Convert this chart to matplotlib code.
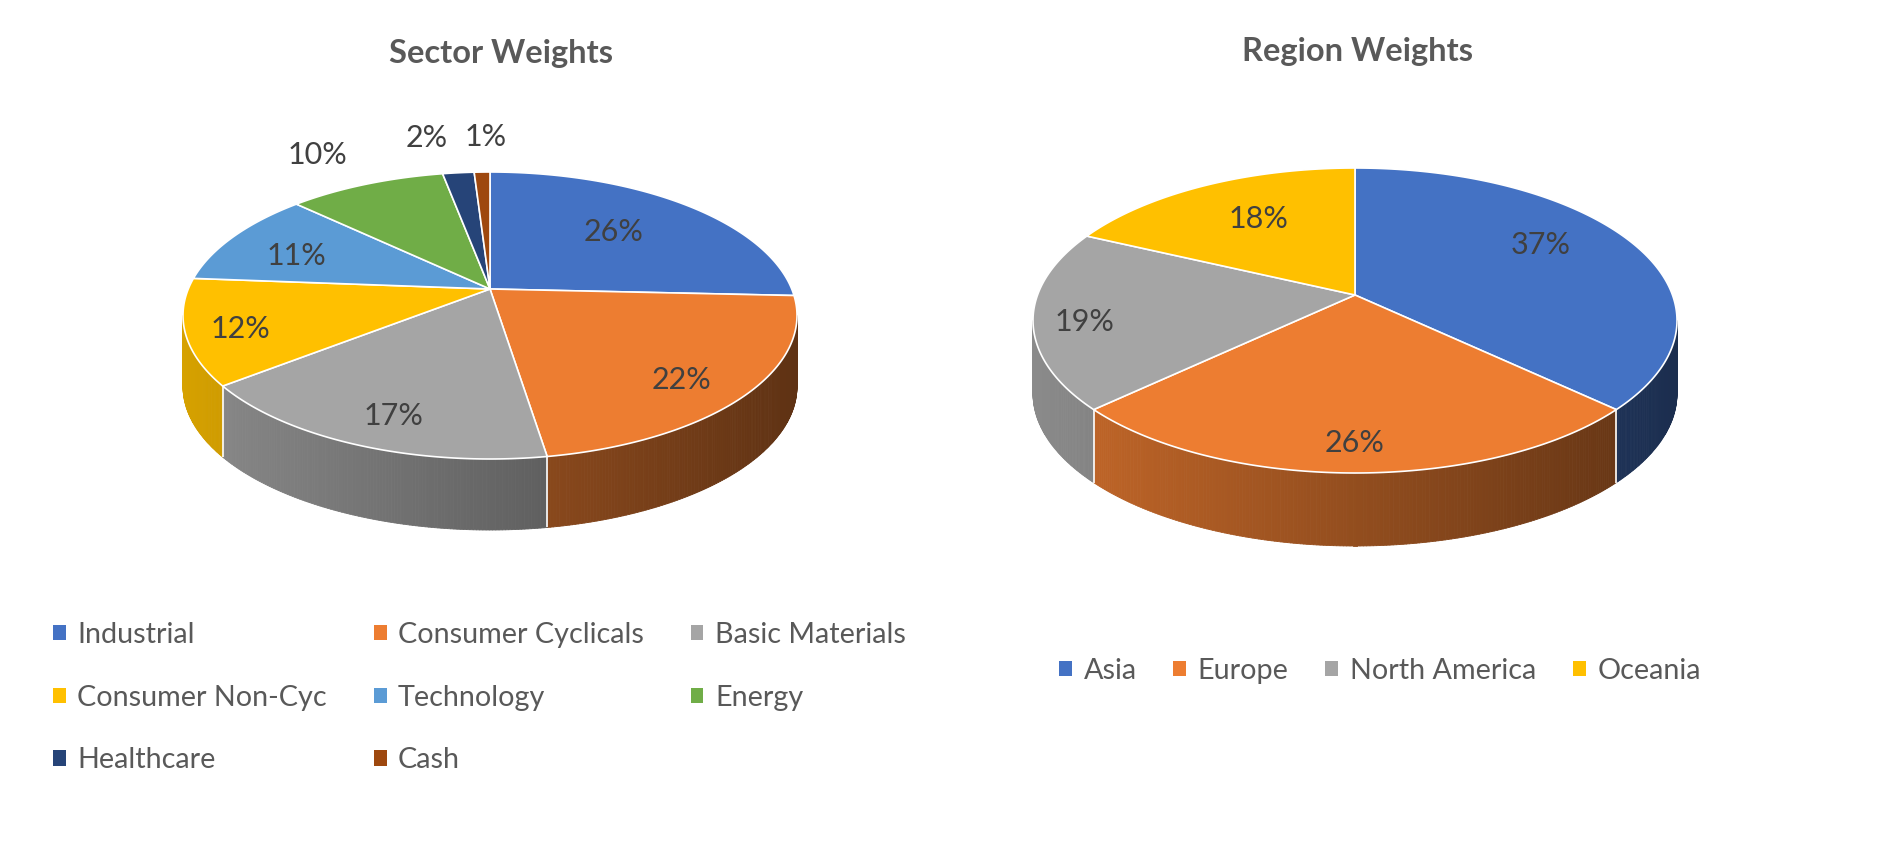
import numpy as np
import matplotlib
matplotlib.use("Agg")
import matplotlib.pyplot as plt
from matplotlib.collections import PolyCollection
from matplotlib.patches import Polygon, Patch
from matplotlib.colors import to_rgb

plt.rcParams['font.family'] = ['Lato', 'DejaVu Sans']

# ---------------- data ----------------
sector_names = ["Industrial", "Consumer Cyclicals", "Basic Materials", "Consumer Non-Cyc",
                "Technology", "Energy", "Healthcare", "Cash"]
sector_values = [26, 22, 17, 12, 11, 10, 2, 1]
sector_colors = ["#4472C4", "#ED7D31", "#A5A5A5", "#FFC000",
                 "#5B9BD5", "#70AD47", "#264478", "#9E480E"]

region_names = ["Asia", "Europe", "North America", "Oceania"]
region_values = [37, 26, 19, 18]
region_colors = ["#4472C4", "#ED7D31", "#A5A5A5", "#FFC000"]

# ---------------- layout ----------------
W, H = 1885, 864
sector_label_r = [0.63, 0.78, 0.80, 0.82, 0.75, 1.40, 1.40, 1.40]
sector_label_nudge = [(-4, -4), (-2, 8), (6, 4), (-2, 2), (2, 4), (-8, 2), (-22, -1), (6, -1)]
region_label_r = [0.62, 0.83, 0.85, 0.62]
region_label_nudge = [(12, -18), (0, 2), (2, 4), (0, -8)]
LABEL_DY = 3

fig = plt.figure(figsize=(W / 100, H / 100), dpi=100)
ax = fig.add_axes([0, 0, 1, 1])
ax.set_xlim(0, W)
ax.set_ylim(H, 0)
ax.axis('off')

LABEL_FS = 22
LEGEND_FS = 20.7


def draw_pie3d(values, colors, cx, cy, halfw, back, front, depth, label_r, label_nudge):
    ratio = front / back
    k = (ratio - 1) / (ratio + 1)
    B = back * (1 + k)
    A = halfw * np.sqrt(1 - k * k)

    def proj(r, t):
        u = r * np.cos(t)
        v = r * np.sin(t)
        w = 1 + k * v
        return cx + A * u / w, cy - B * v / w

    vals = np.asarray(values, dtype=float)
    fr = vals / vals.sum()
    starts = np.pi / 2 - 2 * np.pi * np.concatenate([[0], np.cumsum(fr)[:-1]])
    ends = starts - 2 * np.pi * fr
    vis_lo = np.pi + np.arcsin(k)
    vis_hi = 2 * np.pi - np.arcsin(k)

    # side faces
    polys, fcs = [], []
    for i in range(len(vals)):
        base = np.array(to_rgb(colors[i]))
        for shift in (-2 * np.pi, 0, 2 * np.pi):
            lo = max(ends[i] + shift, vis_lo)
            hi = min(starts[i] + shift, vis_hi)
            if lo >= hi:
                continue
            n = max(2, int(np.degrees(hi - lo) / 0.5))
            ts = np.linspace(lo, hi, n + 1)
            for j in range(n):
                x0, y0 = proj(1, ts[j])
                x1, y1 = proj(1, ts[j + 1])
                polys.append([(x0, y0), (x1, y1), (x1, y1 + depth), (x0, y0 + depth)])
                xn = ((x0 + x1) / 2 - cx) / halfw
                f = 0.62 - 0.22 * xn
                fcs.append(np.clip(base * f, 0, 1))
    pc = PolyCollection(polys, facecolors=fcs, edgecolors=fcs, linewidths=0.6, zorder=1)
    ax.add_collection(pc)

    # white separators on the side
    for t in starts:
        tt = t % (2 * np.pi)
        if vis_lo < tt < vis_hi:
            x0, y0 = proj(1, tt)
            ax.plot([x0, x0], [y0, y0 + depth], color='white', lw=1.2, zorder=1.5,
                    solid_capstyle='butt')

    # top faces
    for i in range(len(vals)):
        n = max(3, int(np.degrees(starts[i] - ends[i]) / 0.5))
        ts = np.linspace(starts[i], ends[i], n + 1)
        xs, ys = proj(1, ts)
        pts = [(cx, cy)] + list(zip(xs, ys))
        ax.add_patch(Polygon(pts, closed=True, facecolor=colors[i], edgecolor='white',
                             lw=1.2, joinstyle='round', zorder=2))

    # data labels
    mids = (starts + ends) / 2
    for i in range(len(vals)):
        x, y = proj(label_r[i], mids[i])
        x += label_nudge[i][0]
        y += label_nudge[i][1] + LABEL_DY
        ax.text(x, y, f"{int(round(values[i]))}%", ha='center', va='center',
                fontsize=LABEL_FS, color='#404040', zorder=3)


draw_pie3d(sector_values, sector_colors, 490, 289, 307, 117, 170, 71,
           sector_label_r, sector_label_nudge)
draw_pie3d(region_values, region_colors, 1355, 295, 322, 127, 178, 73,
           region_label_r, region_label_nudge)

# titles
ax.text(501, 54, "Sector Weights", ha='center', va='center', fontsize=23.5,
        fontweight='bold', color='#595959')
ax.text(1357, 52, "Region Weights", ha='center', va='center', fontsize=23.5,
        fontweight='bold', color='#595959')

# legends
order = [0, 3, 6, 1, 4, 7, 2, 5]
h1 = [Patch(facecolor=sector_colors[i], edgecolor='none') for i in order]
l1 = [sector_names[i] for i in order]
fig.legend(h1, l1, ncol=3, loc='upper left', bbox_to_anchor=(53 / W, 1 - 622 / H),
           frameon=False, fontsize=LEGEND_FS, handlelength=0.45, handleheight=0.45,
           handletextpad=0.4, columnspacing=1.62, labelspacing=1.27,
           labelcolor='#595959', borderpad=0, borderaxespad=0)

h2 = [Patch(facecolor=c, edgecolor='none') for c in region_colors]
fig.legend(h2, region_names, ncol=4, loc='upper left', bbox_to_anchor=(1059 / W, 1 - 658 / H),
           frameon=False, fontsize=LEGEND_FS, handlelength=0.45, handleheight=0.45,
           handletextpad=0.4, columnspacing=1.28,
           labelcolor='#595959', borderpad=0, borderaxespad=0)

fig.savefig("out.png", dpi=100, facecolor='white')
